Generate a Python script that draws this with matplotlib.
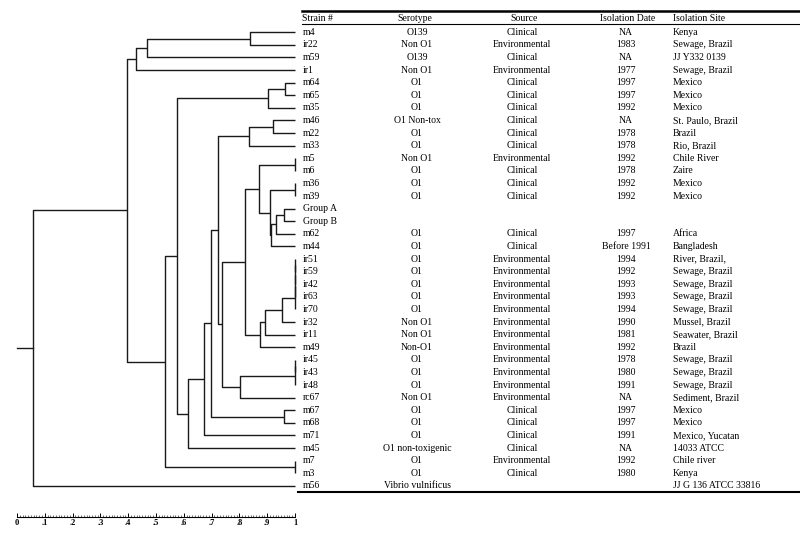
import matplotlib.pyplot as plt
import numpy as np

strains = ['m4', 'ir22', 'm59', 'ir1', 'm64', 'm65', 'm35', 'm46', 'm22', 'm33',
           'm5', 'm6', 'm36', 'm39', 'Group A', 'Group B', 'm62', 'm44',
           'ir51', 'ir59', 'ir42', 'ir63', 'ir70', 'ir32', 'ir11', 'm49',
           'ir45', 'ir43', 'ir48', 'rc67', 'm67', 'm68', 'm71', 'm45', 'm7', 'm3', 'm56']
serotype = ['O139', 'Non O1', 'O139', 'Non O1', 'O1', 'O1', 'O1', 'O1 Non-tox', 'O1', 'O1',
            'Non O1', 'O1', 'O1', 'O1', '', '', 'O1', 'O1',
            'O1', 'O1', 'O1', 'O1', 'O1', 'Non O1', 'Non O1', 'Non-O1',
            'O1', 'O1', 'O1', 'Non O1', 'O1', 'O1', 'O1', 'O1 non-toxigenic', 'O1', 'O1',
            'Vibrio vulnificus']
source = ['Clinical', 'Environmental', 'Clinical', 'Environmental', 'Clinical', 'Clinical',
          'Clinical', 'Clinical', 'Clinical', 'Clinical', 'Environmental', 'Clinical',
          'Clinical', 'Clinical', '', '', 'Clinical', 'Clinical',
          'Environmental', 'Environmental', 'Environmental', 'Environmental', 'Environmental',
          'Environmental', 'Environmental', 'Environmental', 'Environmental', 'Environmental',
          'Environmental', 'Environmental', 'Clinical', 'Clinical', 'Clinical', 'Clinical',
          'Environmental', 'Clinical', '']
iso_date = ['NA', '1983', 'NA', '1977', '1997', '1997', '1992', 'NA', '1978', '1978',
            '1992', '1978', '1992', '1992', '', '', '1997', 'Before 1991',
            '1994', '1992', '1993', '1993', '1994', '1990', '1981', '1992',
            '1978', '1980', '1991', 'NA', '1997', '1997', '1991', 'NA', '1992', '1980', '']
iso_site = ['Kenya', 'Sewage, Brazil', 'JJ Y332 0139', 'Sewage, Brazil', 'Mexico', 'Mexico',
            'Mexico', 'St. Paulo, Brazil', 'Brazil', 'Rio, Brazil', 'Chile River', 'Zaire',
            'Mexico', 'Mexico', '', '', 'Africa', 'Bangladesh',
            'River, Brazil,', 'Sewage, Brazil', 'Sewage, Brazil', 'Sewage, Brazil',
            'Sewage, Brazil', 'Mussel, Brazil', 'Seawater, Brazil', 'Brazil',
            'Sewage, Brazil', 'Sewage, Brazil', 'Sewage, Brazil', 'Sediment, Brazil',
            'Mexico', 'Mexico', 'Mexico, Yucatan', '14033 ATCC', 'Chile river', 'Kenya',
            'JJ G 136 ATCC 33816']

# (child, child, similarity, node name)
merges = [
    ('m4', 'ir22', 0.838, 'a1'), ('a1', 'm59', 0.468, 'a2'), ('a2', 'ir1', 0.429, 'a3'),
    ('m64', 'm65', 0.963, 'b1'), ('b1', 'm35', 0.902, 'b2'),
    ('m46', 'm22', 0.922, 'c1'), ('c1', 'm33', 0.833, 'c2'),
    ('m5', 'm6', 1.0, 'd1'), ('m36', 'm39', 1.0, 'd2'),
    ('Group A', 'Group B', 0.961, 'd3'), ('d3', 'm62', 0.931, 'd4'), ('d4', 'm44', 0.915, 'd5'),
    ('d2', 'd5', 0.909, 'd6'), ('d1', 'd6', 0.871, 'd7'),
    ('ir51', 'ir59', 1.0, 'e1'), ('e1', 'ir42', 1.0, 'e2'), ('e2', 'ir63', 1.0, 'e3'),
    ('e3', 'ir70', 1.0, 'e4'), ('e4', 'ir32', 0.954, 'e5'), ('e5', 'ir11', 0.892, 'e6'),
    ('e6', 'm49', 0.873, 'e7'), ('d7', 'e7', 0.819, 'f1'),
    ('ir45', 'ir43', 1.0, 'g1'), ('g1', 'ir48', 1.0, 'g2'), ('g2', 'rc67', 0.802, 'g3'),
    ('f1', 'g3', 0.736, 'h1'), ('c2', 'h1', 0.722, 'h2'),
    ('m67', 'm68', 0.961, 'h3'), ('h2', 'h3', 0.698, 'h4'), ('h4', 'm71', 0.674, 'h5'),
    ('h5', 'm45', 0.616, 'h6'), ('b2', 'h6', 0.577, 'h7'),
    ('m7', 'm3', 1.0, 'i1'), ('h7', 'i1', 0.534, 'i2'),
    ('a3', 'i2', 0.397, 'j1'), ('j1', 'm56', 0.057, 'root'),
]

scale_ticks = np.arange(0, 1.01, 0.1)
scale_labels = ['0', '.1', '.2', '.3', '.4', '.5', '.6', '.7', '.8', '.9', '1']

plt.rcParams['font.family'] = ['Liberation Serif', 'DejaVu Serif']

fig = plt.figure(figsize=(8, 5.37), dpi=100)
ax = fig.add_axes([0, 0, 1, 1])
ax.axis('off')

# pixel layout: similarity 0 at x=17px, 278px per unit; rows start at y=32.3px, 12.6px apart
x0, unit = 17, 278
y0, step = 32.3, 12.6
ax.set_xlim(-x0 / unit, (800 - x0) / unit)
ax.set_ylim((537 - y0) / step, -y0 / step)

def px(p):
    return (p - x0) / unit

def row(p):
    return (p - y0) / step

lw = 1.0
col = '#1a1a1a'
pos = {name: (1.0, i) for i, name in enumerate(strains)}
for a, b, h, name in merges:
    xa, ya = pos[a]
    xb, yb = pos[b]
    ax.plot([xa, h, h, xb], [ya, ya, yb, yb], color=col, lw=lw, solid_capstyle='butt')
    pos[name] = (h, (ya + yb) / 2)
rx, ry = pos['root']
ax.plot([0, rx], [ry, ry], color=col, lw=lw)

fs = 7
for i in range(len(strains)):
    ax.text(px(303), i, strains[i], fontsize=fs, va='center', ha='left')
    ax.text(px(417), i, serotype[i], fontsize=fs, va='center', ha='center')
    ax.text(px(522), i, source[i], fontsize=fs, va='center', ha='center')
    ax.text(px(626), i, iso_date[i], fontsize=fs, va='center', ha='center')
    ax.text(px(673), i, iso_site[i], fontsize=fs, va='center', ha='left')

hy = row(18.3)
ax.text(px(302), hy, 'Strain #', fontsize=fs, va='center', ha='left')
ax.text(px(415), hy, 'Serotype', fontsize=fs, va='center', ha='center')
ax.text(px(524), hy, 'Source', fontsize=fs, va='center', ha='center')
ax.text(px(628), hy, 'Isolation Date', fontsize=fs, va='center', ha='center')
ax.text(px(673), hy, 'Isolation Site', fontsize=fs, va='center', ha='left')

ax.plot([px(302), px(800)], [row(11), row(11)], color='black', lw=1.8)
ax.plot([px(302), px(800)], [row(24.3), row(24.3)], color='black', lw=0.8)
ax.plot([px(298), px(800)], [row(492.3), row(492.3)], color='black', lw=1.5)

# scale bar
sax = fig.add_axes([x0 / 800, 1 - 516.7 / 537, unit / 800, 0.01])
sax.patch.set_alpha(0)
for s in ['top', 'left', 'right']:
    sax.spines[s].set_visible(False)
sax.spines['bottom'].set_linewidth(0.8)
sax.set_xlim(0, 1)
sax.set_yticks([])
sax.set_xticks(scale_ticks)
sax.set_xticklabels(scale_labels, fontsize=6, fontweight='bold')
sax.set_xticks(np.arange(0, 1.001, 0.01), minor=True)
sax.tick_params(axis='x', which='major', direction='in', length=3, width=0.7, pad=2)
sax.tick_params(axis='x', which='minor', direction='in', length=1.6, width=0.4)

fig.savefig('out.png', dpi=100)
